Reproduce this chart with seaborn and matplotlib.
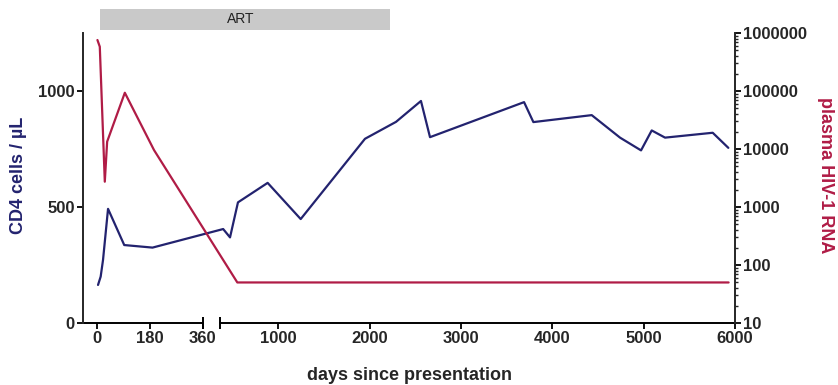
import numpy as np
import seaborn as sns
import matplotlib.pyplot as plt
from matplotlib.patches import Rectangle
from matplotlib.ticker import LogLocator, NullFormatter, FixedLocator, FixedFormatter

# CD4 counts (cells/uL)
cd4_days = [4, 13, 21, 38, 93, 189, 395, 470, 557, 882, 1244, 1948, 2288, 2561, 2660,
            3690, 3792, 4431, 4741, 4971, 5088, 5234, 5756, 5927]
cd4_vals = [164, 200, 272, 492, 336, 325, 405, 369, 520, 604, 448, 794, 867, 957, 801,
            952, 866, 896, 799, 744, 830, 799, 820, 755]

# plasma HIV-1 RNA (copies/mL)
rna_days = [2, 10, 27, 35, 95, 194, 550, 5930]
rna_vals = [757000, 580000, 2730, 13400, 93300, 9600, 50, 50]

x_ticks = [0, 180, 360, 1000, 2000, 3000, 4000, 5000, 6000]
x_ticklabels = ['0', '180', '360', '1000', '2000', '3000', '4000', '5000', '6000']
cd4_ticks = [0, 500, 1000]
rna_ticks = [10, 100, 1000, 10000, 100000, 1000000]
rna_ticklabels = ['10', '100', '1000', '10000', '100000', '1000000']

ART_START, ART_END = 10, 2220

BLUE = '#23236f'
RED = '#b01c46'

# broken x axis: first year stretched, gap, then the rest compressed
BREAK = 360
GAP = 58
RATIO = 0.31


def fwd(d):
    d = np.asarray(d, dtype=float)
    return np.where(d <= BREAK, d, BREAK + GAP + (d - BREAK) * RATIO)


def inv(u):
    u = np.asarray(u, dtype=float)
    return np.where(u <= BREAK, u,
                    np.where(u < BREAK + GAP, BREAK, BREAK + (u - BREAK - GAP) / RATIO))


sns.set_style("ticks")
plt.rcParams['font.family'] = ['Liberation Sans', 'DejaVu Sans']
plt.rcParams['font.weight'] = 'bold'

fig = plt.figure(figsize=(8.38, 3.85), dpi=100)
ax = fig.add_axes([83 / 838, 62 / 385, 652 / 838, 290 / 385])
ax.set_xscale('function', functions=(fwd, inv))
ax2 = ax.twinx()

sns.lineplot(x=cd4_days, y=cd4_vals, ax=ax, color=BLUE, lw=1.6, legend=False)
sns.lineplot(x=rna_days, y=rna_vals, ax=ax2, color=RED, lw=1.6, legend=False)

xmin = -47
ax.set_xlim(xmin, 6000)
ax.set_ylim(0, 1250)
ax2.set_yscale('log')
ax2.set_ylim(10, 1000000)

ax.xaxis.set_major_locator(FixedLocator(x_ticks))
ax.xaxis.set_major_formatter(FixedFormatter(x_ticklabels))
ax.xaxis.set_minor_locator(FixedLocator([]))
ax.set_yticks(cd4_ticks)
ax2.yaxis.set_major_locator(FixedLocator(rna_ticks))
ax2.yaxis.set_major_formatter(FixedFormatter(rna_ticklabels))
ax2.yaxis.set_minor_locator(LogLocator(base=10, subs=np.arange(2, 10)))
ax2.yaxis.set_minor_formatter(NullFormatter())

for a in (ax, ax2):
    a.tick_params(axis='both', which='major', length=4, width=1.3, labelsize=12,
                  pad=2, direction='out', color='black')
    a.tick_params(axis='y', which='minor', length=2.5, width=1.0)
    for s in a.spines.values():
        s.set_linewidth(1.4)
    a.spines['top'].set_visible(False)
    a.spines['bottom'].set_visible(False)
    a.set_xlabel('')
ax.spines['right'].set_visible(False)
ax2.spines['left'].set_visible(False)
for lab in ax.get_xticklabels() + ax.get_yticklabels() + ax2.get_yticklabels():
    lab.set_fontweight('bold')

# x axis drawn in two pieces with end caps at the break
xt = ax.get_xaxis_transform()
ax.plot([xmin, BREAK], [0, 0], color='black', lw=1.4, transform=xt, clip_on=False)
ax.plot([BREAK + 1e-6, 6000], [0, 0], color='black', lw=1.4, transform=xt, clip_on=False)
ax.plot([BREAK, BREAK + 1e-6], [0, 0], ls='none', marker='|', ms=9, mew=1.4,
        color='black', transform=xt, clip_on=False)

ax.set_ylabel('CD4 cells / µL', color=BLUE, fontsize=13, fontweight='bold')
ax2.set_ylabel('plasma HIV-1 RNA', color=RED, fontsize=13, fontweight='bold',
               rotation=270)
ax.yaxis.set_label_coords(-0.086, 0.51)
ax2.yaxis.set_label_coords(1.152, 0.51)
fig.text(409 / 838, 1 - 376 / 385, 'days since presentation', ha='center', va='center',
         fontsize=13, fontweight='bold')

# ART bar above the plot
ax.add_patch(Rectangle((ART_START, 1.01), ART_END - ART_START, 0.073, transform=xt,
                       facecolor='#c9c9c9', edgecolor='none', clip_on=False))
u_mid = (fwd(ART_START) + fwd(ART_END)) / 2
ax.text(float(inv(u_mid)) - 40, 1.047, 'ART', transform=xt, ha='center', va='center',
        fontsize=10, fontweight='normal', color='#222222')

fig.savefig('out.png', dpi=100)
